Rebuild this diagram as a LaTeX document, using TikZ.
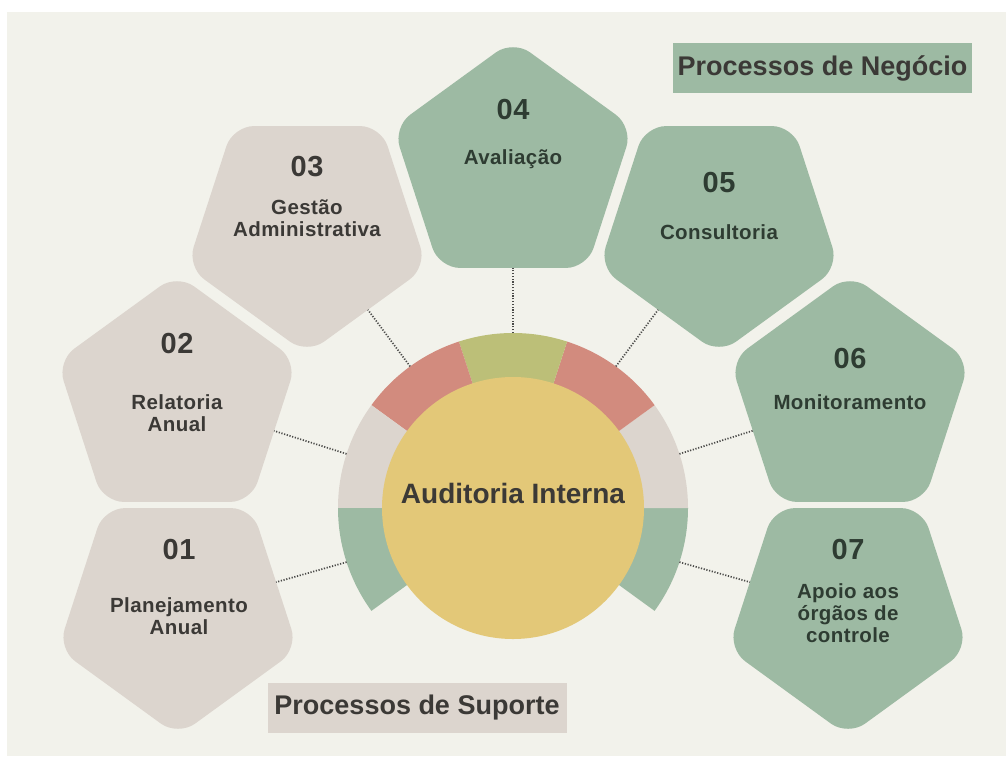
\documentclass[tikz,border=0pt]{standalone}
\usepackage{fontspec}
\setmainfont{Liberation Sans}
\usetikzlibrary{shapes.geometric}
\definecolor{bgc}{HTML}{F2F2EB}
\definecolor{sage}{HTML}{9DBAA3}
\definecolor{beige}{HTML}{DCD5CE}
\definecolor{rose}{HTML}{D28B7E}
\definecolor{olive}{HTML}{BCBF78}
\definecolor{yel}{HTML}{E3C878}
\definecolor{txtb}{HTML}{3B3936}
\definecolor{txtg}{HTML}{2E3C32}
\definecolor{dotc}{HTML}{4A4A48}
\begin{document}
\begin{tikzpicture}[x=1pt,y=-1pt,
  pentbase/.style={regular polygon, regular polygon sides=5, minimum size=252pt,
    inner sep=0pt, outer sep=0pt, rounded corners=21pt},
  pentup/.style={pentbase},
  pentdown/.style={pentbase, shape border rotate=180},
  numtxt/.style={font=\bfseries\fontsize{29}{30}\selectfont\addfontfeature{LetterSpace=2}, inner sep=0pt},
  labtxt/.style={font=\bfseries\fontsize{20.5}{22}\selectfont\addfontfeature{LetterSpace=2}, align=center, inner sep=0pt},
  headbox/.style={font=\bfseries\fontsize{27}{30}\selectfont, text=txtb, minimum width=299pt,
    minimum height=50pt, inner sep=0pt},
  dotline/.style={draw=dotc, line width=1.7pt, dash pattern=on 1.2pt off 1.6pt}
]
\useasboundingbox (0,0) rectangle (1006,756);
\fill[white] (0,0) rectangle (1006,756);
\fill[bgc] (7,12) rectangle (1006,756);

% pentagons
\node[pentdown, fill=beige] (p1) at (178,610) {};
\node[pentup,   fill=beige] (p2) at (177,400) {};
\node[pentdown, fill=beige] (p3) at (307,228) {};
\node[pentup,   fill=sage]  (p4) at (513,166) {};
\node[pentdown, fill=sage]  (p5) at (719,228) {};
\node[pentup,   fill=sage]  (p6) at (850,400) {};
\node[pentdown, fill=sage]  (p7) at (848,610) {};

% ring
\coordinate (c) at (513,508);
\foreach \a/\b/\col in {0/36/sage, -36/0/beige, -72/-36/rose, -108/-72/olive,
  -144/-108/rose, -180/-144/beige, -216/-180/sage}{
  \fill[\col] ([shift={(\a:175)}]c) arc[start angle=\a, end angle=\b, radius=175]
    -- ([shift={(\b:125)}]c) arc[start angle=\b, end angle=\a, radius=125] -- cycle;
}
\node[circle, fill=yel, minimum size=262pt, inner sep=0pt] (core) at (c) {};
\node[font=\bfseries\fontsize{28}{30}\selectfont, text=txtb, inner sep=0pt] (title) at (513,493) {Auditoria Interna};

% connector anchors on ring
\coordinate (r1) at (346.6,562.1);
\coordinate (r2) at (346.6,453.9);
\coordinate (r3) at (410.1,366.4);
\coordinate (r4) at (513,333);
\coordinate (r5) at (615.9,366.4);
\coordinate (r6) at (679.4,453.9);
\coordinate (r7) at (679.4,562.1);
\foreach \i in {1,...,7}{\draw[dotline] (r\i) -- (p\i);}

% texts
\node[numtxt, text=txtb] (n1) at (179,550) {01};
\node[labtxt, text=txtb] (l1) at (179,616) {Planejamento\\Anual};
\node[numtxt, text=txtb] (n2) at (177,344) {02};
\node[labtxt, text=txtb] (l2) at (177,413) {Relatoria\\Anual};
\node[numtxt, text=txtb] (n3) at (307,167) {03};
\node[labtxt, text=txtb] (l3) at (307,218) {Gestão\\Administrativa};
\node[numtxt, text=txtg] (n4) at (513,110) {04};
\node[labtxt, text=txtg] (l4) at (513,159) {Avaliação};
\node[numtxt, text=txtg] (n5) at (719,183) {05};
\node[labtxt, text=txtg] (l5) at (719,232) {Consultoria};
\node[numtxt, text=txtg] (n6) at (850,359) {06};
\node[labtxt, text=txtg] (l6) at (850,402) {Monitoramento};
\node[numtxt, text=txtg] (n7) at (848,550) {07};
\node[labtxt, text=txtg] (l7) at (848,613) {Apoio aos\\órgãos de\\controle};

% headings
\node[headbox, fill=sage] (hn) at (822.5,68) {Processos de Negócio};
\node[headbox, fill=beige] (hs) at (417,708) {Processos de Suporte};
\end{tikzpicture}
\end{document}
